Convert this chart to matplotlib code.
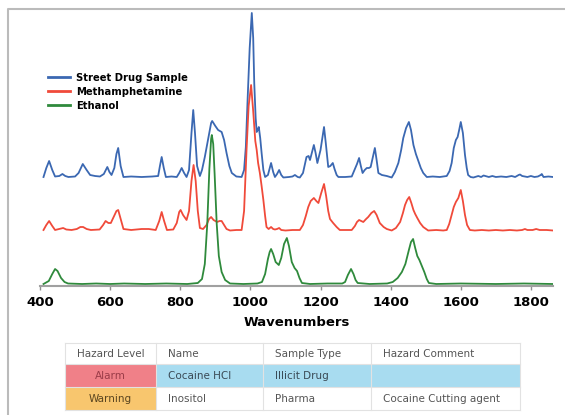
import matplotlib.pyplot as plt
from matplotlib import patches

# Raman spectra (wavenumber, height above own baseline)
blue_x = [410, 418, 426, 435, 443, 455, 464, 472, 481, 500, 510, 522, 533, 543, 557, 571, 582, 592, 598, 604,
          612, 618, 623, 630, 638, 660, 690, 720, 737, 742, 747, 753, 759, 775, 790, 797, 804, 811, 818, 825,
          832, 837, 842, 848, 856, 862, 870, 880, 888, 891, 900, 908, 918, 925, 932, 940, 947, 960, 975, 982,
          987, 992, 998, 1004, 1008, 1011, 1015, 1018, 1022, 1024, 1028, 1032, 1037, 1042, 1050, 1059, 1065,
          1070, 1076, 1082, 1088, 1094, 1110, 1120, 1127, 1135, 1141, 1150, 1160, 1166, 1170, 1176, 1181, 1186,
          1191, 1200, 1206, 1210, 1215, 1222, 1228, 1235, 1240, 1246, 1251, 1270, 1289, 1298, 1304, 1310, 1315,
          1320, 1326, 1332, 1338, 1343, 1350, 1355, 1360, 1365, 1375, 1389, 1403, 1412, 1422, 1430, 1436, 1444,
          1452, 1458, 1465, 1472, 1479, 1486, 1493, 1503, 1520, 1540, 1550, 1560, 1568, 1574, 1580, 1586, 1591,
          1596, 1600, 1606, 1612, 1617, 1621, 1628, 1636, 1650, 1658, 1665, 1680, 1690, 1700, 1715, 1730, 1745,
          1755, 1765, 1769, 1775, 1790, 1800, 1810, 1820, 1828, 1831, 1836, 1850, 1863]
blue_y = [1, 10, 17, 8, 1.5, 2, 4, 2, 1, 1.5, 5, 14, 8, 3, 2, 1.5, 4, 11, 6, 3,
          10, 24, 30, 12, 1, 1.5, 1, 1.5, 2, 12, 21, 10, 1, 1.5, 1, 5, 10, 5, 1, 8,
          45, 68, 45, 12, 2, 8, 21, 40, 55, 57, 52, 48, 46, 38, 25, 12, 5, 1.5, 1, 8,
          31, 78, 130, 165, 140, 95, 60, 46, 49, 51, 40, 25, 8, 1, 3, 15, 6,
          1, 4, 8, 3, 0.5, 1, 1.5, 3, 1, 0.5, 5, 21, 22, 18, 26, 33, 25,
          15, 28, 42, 51, 35, 11, 12, 15, 9, 3, 1, 1, 1.5, 9, 14, 20, 12,
          5, 8, 10, 10, 11, 22, 30, 18, 5, 3, 2, 0.5, 6, 15, 28, 40, 50,
          56, 48, 33, 24, 17, 10, 5, 1, 1.5, 1, 1.5, 2, 7, 15, 30, 38, 41,
          49, 56, 45, 23, 10, 3, 1, 0.5, 2, 1, 2.5, 1, 2, 1, 1.5, 1, 2,
          1, 3, 3.5, 2, 1, 2, 1, 1.5, 3, 4, 1, 1.5, 1]

red_x = [410, 418, 426, 435, 443, 455, 466, 475, 490, 505, 515, 523, 533, 545, 570, 580, 587, 595, 602, 610,
         618, 623, 630, 638, 660, 690, 710, 730, 740, 747, 754, 762, 780, 790, 797, 801, 808, 818, 825, 832,
         838, 844, 850, 856, 865, 875, 882, 888, 895, 905, 912, 918, 925, 932, 942, 960, 975, 982, 989, 995,
         1002, 1008, 1014, 1018, 1022, 1027, 1032, 1037, 1042, 1046, 1052, 1059, 1065, 1070, 1076, 1082, 1088,
         1100, 1120, 1141, 1150, 1158, 1165, 1172, 1181, 1188, 1194, 1202, 1210, 1216, 1222, 1227, 1236, 1246,
         1255, 1270, 1289, 1298, 1304, 1310, 1316, 1322, 1330, 1336, 1345, 1353, 1360, 1369, 1380, 1389, 1403,
         1415, 1427, 1435, 1441, 1447, 1453, 1459, 1465, 1470, 1476, 1484, 1493, 1507, 1530, 1550, 1560, 1567,
         1574, 1580, 1586, 1593, 1600, 1606, 1612, 1618, 1626, 1640, 1660, 1680, 1700, 1720, 1740, 1760, 1775,
         1783, 1790, 1805, 1815, 1825, 1845, 1863]
red_y = [1, 6, 10, 5, 1, 2, 3, 1.5, 1, 2, 4, 4, 2, 1, 1.5, 6, 10, 8, 8, 14,
         20, 21, 12, 2, 1, 2, 2, 1, 10, 19, 10, 1, 1.5, 8, 19, 21, 16, 11, 20, 50,
         66, 50, 20, 3, 2, 6, 12, 14, 11, 9, 10, 10, 6, 2, 0.5, 1, 1, 20, 81, 125,
         146, 120, 90, 81, 68, 58, 45, 31, 15, 4, 2, 4, 2, 1.5, 2, 3, 1,
         0.5, 1, 1, 6, 15, 24, 30, 33, 30, 28, 38, 47, 35, 20, 12, 8, 4,
         1, 1, 1, 5, 9, 11, 10, 9, 12, 14, 18, 20, 16, 8, 4, 2, 0.5,
         3, 9, 18, 26, 31, 34, 28, 21, 17, 13, 8, 4, 0.5, 1, 0.5, 1, 7,
         16, 24, 29, 33, 41, 30, 16, 6, 1, 0.5, 1, 0.5, 1, 0.5, 1, 0.5, 1,
         2, 1, 1, 2, 1, 1, 0.5]

green_x = [410, 425, 435, 443, 450, 460, 470, 480, 520, 560, 600, 640, 700, 760, 820, 850, 862, 870, 877, 883,
           888, 890, 894, 898, 904, 910, 918, 928, 942, 980, 1020, 1033, 1042, 1050, 1055, 1059, 1065, 1072,
           1081, 1088, 1096, 1104, 1110, 1118, 1126, 1133, 1140, 1147, 1170, 1220, 1262, 1270, 1278, 1287, 1294,
           1300, 1306, 1340, 1390, 1406, 1420, 1432, 1442, 1452, 1458, 1464, 1470, 1476, 1482, 1489, 1496, 1503,
           1509, 1530, 1600, 1700, 1780, 1863]
green_y = [0, 3, 10, 15, 13, 6, 2, 0.5, 0, 0.5, 0, 0.5, 0, 0.5, 0, 1, 5, 20, 60, 115,
           145, 149, 140, 110, 60, 28, 12, 4, 0.5, 0, 0.5, 2, 10, 25, 32, 35, 30, 22,
           19, 26, 40, 46, 38, 22, 16, 13, 6, 1, 0, 0.5, 0.5, 2, 9, 15, 10,
           4, 1, 0, 0.5, 2, 6, 12, 20, 34, 42, 45, 36, 28, 24, 18, 12, 5,
           1, 0, 0.5, 0, 0.5, 0]

series_names = ['Street Drug Sample', 'Methamphetamine', 'Ethanol']
xticks = [400, 600, 800, 1000, 1200, 1400, 1600, 1800]

# Result table
table_header = ['Hazard Level', 'Name', 'Sample Type', 'Hazard Comment']
table_rows = [['Alarm', 'Cocaine HCl', 'Illicit Drug', ''],
              ['Warning', 'Inositol', 'Pharma', 'Cocaine Cutting agent']]

W, H = 565, 415
fig = plt.figure(figsize=(W / 100, H / 100), dpi=100)

# overlay in pixel coordinates for the frame and the table
bg = fig.add_axes([0, 0, 1, 1])
bg.set_xlim(0, W)
bg.set_ylim(H, 0)
bg.axis('off')
bg.plot([8, 8, W], [H, 9, 9], color='#bbbbbb', lw=1.5, solid_capstyle='butt')

# spectra axes: x axis line at y=286 px, top at y=8 px
ax = fig.add_axes([40 / W, (H - 286) / H, 513 / W, 278 / H])
ax.patch.set_alpha(0)
offsets = [108, 55, 2]
colors = ['#3b68b2', '#f04a3a', '#2f8a3c']
for xs, ys, off, c, name in zip([blue_x, red_x, green_x], [blue_y, red_y, green_y],
                                offsets, colors, series_names):
    ax.plot(xs, [v + off for v in ys], color=c, lw=1.3, label=name)

ax.set_xlim(400, 1863)
ax.set_ylim(0, 278)
for s in ['left', 'right', 'top']:
    ax.spines[s].set_visible(False)
ax.spines['bottom'].set_color('#a0a0a0')
ax.spines['bottom'].set_linewidth(1.5)
ax.set_yticks([])
ax.set_xticks(xticks)
ax.tick_params(axis='x', length=3, width=1, color='#909090', pad=4, labelsize=9.5)
for lab in ax.get_xticklabels():
    lab.set_fontweight('bold')
ax.set_xlabel('Wavenumbers', fontsize=9.5, fontweight='bold', labelpad=5)

leg = ax.legend(loc='upper left', bbox_to_anchor=(8 / 513, 213 / 278), frameon=False,
                prop={'weight': 'bold', 'size': 7.2}, handlelength=2.2, handletextpad=0.6,
                labelspacing=0.38, borderpad=0, borderaxespad=0)
for line in leg.get_lines():
    line.set_linewidth(2)

# table
col_edges = [65, 156, 263, 371, 520]
row_edges = [343, 364, 387, 410]
fills = [['white'] * 4,
         ['#f08088', '#a8dcf0', '#a8dcf0', '#a8dcf0'],
         ['#f8c66e', 'white', 'white', 'white']]
text_colors = [['#555555'] * 4,
               ['#9a3c48', '#3a4a55', '#3a4a55', '#3a4a55'],
               ['#5a4520', '#555555', '#555555', '#555555']]
cells = [table_header] + table_rows
for r in range(3):
    y0, y1 = row_edges[r], row_edges[r + 1]
    for c in range(4):
        x0, x1 = col_edges[c], col_edges[c + 1]
        bg.add_patch(patches.Rectangle((x0, y0), x1 - x0, y1 - y0, facecolor=fills[r][c],
                                       edgecolor='none'))
        if c == 0:
            bg.text((x0 + x1) / 2, (y0 + y1) / 2, cells[r][c], ha='center', va='center',
                    fontsize=7.5, color=text_colors[r][c])
        else:
            bg.text(x0 + 12, (y0 + y1) / 2, cells[r][c], ha='left', va='center',
                    fontsize=7.5, color=text_colors[r][c])
for x in col_edges:
    bg.plot([x, x], [row_edges[0], row_edges[-1]], color='#e2e2e2', lw=0.8)
for y in row_edges:
    bg.plot([col_edges[0], col_edges[-1]], [y, y], color='#e2e2e2', lw=0.8)

fig.savefig('out.png', dpi=100)
